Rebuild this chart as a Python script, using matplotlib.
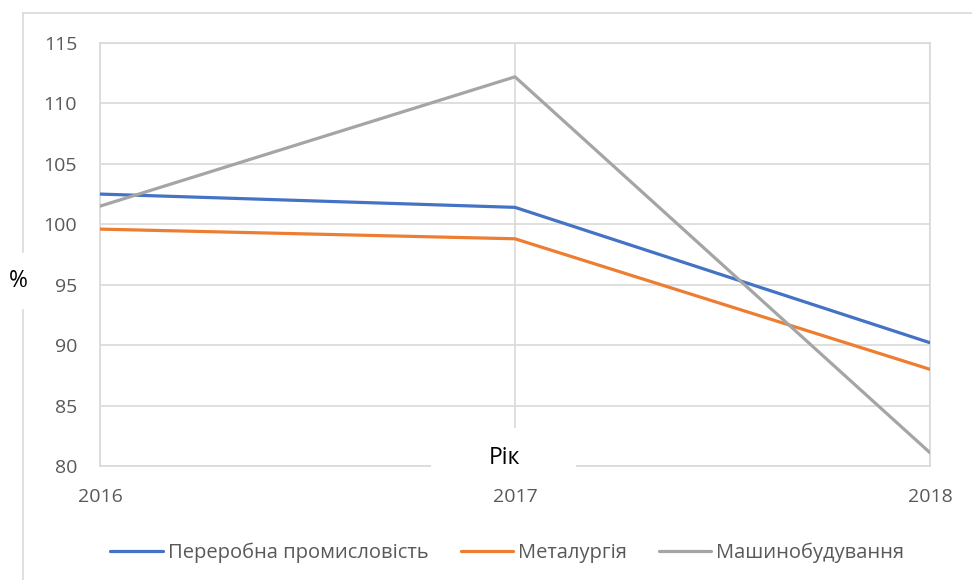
import matplotlib.pyplot as plt
from matplotlib.lines import Line2D
from matplotlib.patches import Rectangle

plt.rcParams['font.family'] = ['Open Sans', 'DejaVu Sans']

years = ["2016", "2017", "2018"]
pererobna = [102.5, 101.4, 90.2]
metalurgia = [99.6, 98.8, 88.0]
mashynobuduvannia = [101.5, 112.2, 81.1]
series_names = ["Переробна промисловість", "Металургія", "Машинобудування"]
colors = ["#4472c4", "#ed7d31", "#a5a5a5"]

W, H = 972, 580
fig = plt.figure(figsize=(W / 100, H / 100), dpi=100)
ax = fig.add_axes([100 / W, 1 - 466 / H, 830 / W, 423 / H])

x = range(len(years))
for vals, name, c in zip([pererobna, metalurgia, mashynobuduvannia], series_names, colors):
    ax.plot(x, vals, color=c, lw=2.3, label=name, solid_capstyle='round', zorder=3)

ax.set_xlim(0, 2)
ax.set_ylim(80, 115)
ax.set_yticks(range(80, 116, 5))
ax.set_xticks(list(x))
ax.set_xticklabels(years)
ax.grid(True, color="#d9d9d9", lw=1.2, zorder=0)
for s in ax.spines.values():
    s.set_color("#d9d9d9")
    s.set_linewidth(1.2)
ax.tick_params(length=0, labelsize=14, labelcolor="#595959")
ax.tick_params(axis='x', pad=15.5)
ax.tick_params(axis='y', pad=16.5)

# white box behind the x-axis title
fig.add_artist(Rectangle((431 / W, 1 - 476 / H), 145 / W, 48 / H,
                         transform=fig.transFigure, facecolor='white',
                         edgecolor='none', zorder=4))
fig.text(504 / W, 1 - 458 / H, "Рік", ha='center', va='center',
         fontsize=16.5, color='black', zorder=5)
fig.text(18 / W, 1 - 281 / H, "%", ha='center', va='center', fontsize=16.5)

ax.legend(loc='center', bbox_to_anchor=(0.522, 1 - 553 / H), bbox_transform=fig.transFigure,
          ncol=3, frameon=False, fontsize=14.5, labelcolor="#595959",
          handlelength=2.6, handletextpad=0.25, columnspacing=1.6)

# outer chart border (partly)
border = dict(color="#d9d9d9", lw=1.2, transform=fig.transFigure)
fig.add_artist(Line2D([23 / W, 1], [1 - 13 / H, 1 - 13 / H], **border))
fig.add_artist(Line2D([23 / W, 23 / W], [1 - 13 / H, 1 - 252 / H], **border))
fig.add_artist(Line2D([23 / W, 23 / W], [1 - 310 / H, 0], **border))

fig.savefig("out.png", dpi=100)
